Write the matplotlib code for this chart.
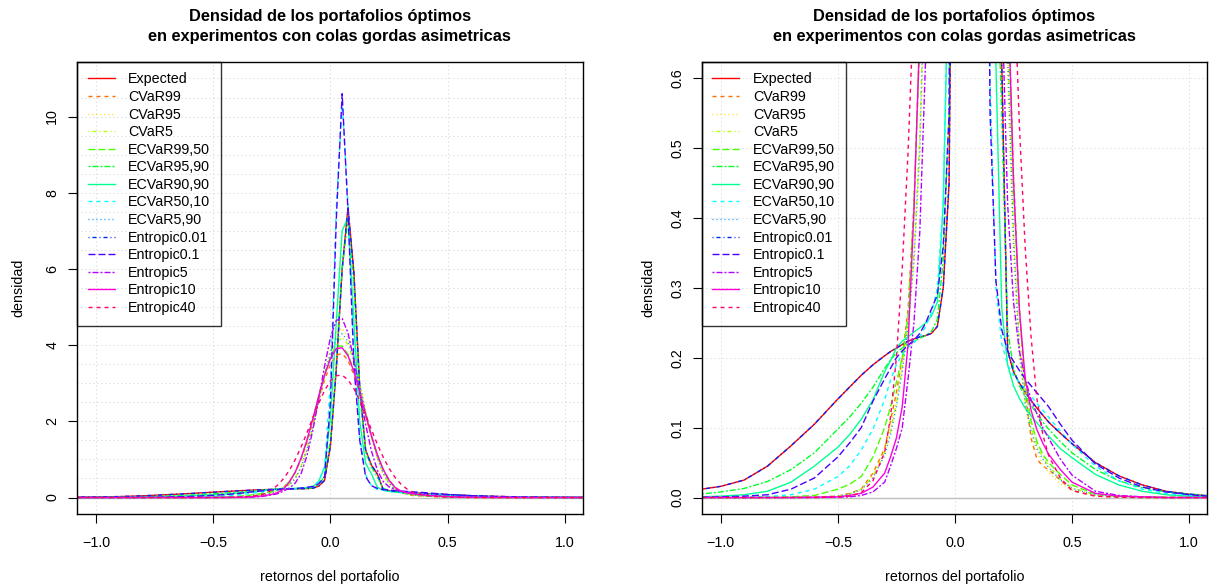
import matplotlib
matplotlib.use("Agg")
import matplotlib.pyplot as plt

plt.rcParams['font.family'] = ['Liberation Sans', 'DejaVu Sans']
plt.rcParams['lines.scale_dashes'] = False
plt.rcParams['axes.unicode_minus'] = True

# ---------------- data ----------------
X = [-1.08, -1.0, -0.9, -0.8, -0.7, -0.6, -0.5, -0.45, -0.4, -0.35, -0.3,
     -0.275, -0.25, -0.225, -0.2, -0.175, -0.15, -0.125, -0.1, -0.075, -0.05, -0.025,
     0.0, 0.025, 0.05, 0.075, 0.1, 0.125, 0.15, 0.175, 0.2, 0.225,
     0.25, 0.275, 0.3, 0.325, 0.35, 0.375, 0.4, 0.45, 0.5, 0.6, 0.7, 0.8, 0.9, 1.0, 1.08]

expected = [0.012, 0.016, 0.025, 0.045, 0.074, 0.105, 0.141, 0.158, 0.175, 0.190, 0.203,
            0.209, 0.214, 0.219, 0.224, 0.227, 0.230, 0.232, 0.235, 0.245, 0.300, 0.450,
            1.36, 3.38, 6.00, 7.62, 5.90, 2.90, 1.25, 0.85, 0.62, 0.21,
            0.180, 0.164, 0.151, 0.139, 0.128, 0.118, 0.108, 0.092, 0.077, 0.050, 0.031, 0.018, 0.009, 0.0048, 0.0024]
cvar99 = [0, 0, 0, 0, 0.0002, 0.0005, 0.002, 0.006, 0.012, 0.035, 0.070,
          0.110, 0.150, 0.200, 0.270, 0.420, 0.660, 1.00, 1.45, 1.98, 2.55, 3.08,
          3.50, 3.74, 3.78, 3.60, 3.22, 2.72, 2.15, 1.60, 1.12, 0.74,
          0.46, 0.27, 0.15, 0.085, 0.055, 0.045, 0.040, 0.025, 0.010, 0.002, 0.0005, 0, 0, 0, 0]
cvar95 = [0, 0, 0, 0, 0, 0.0002, 0.001, 0.004, 0.012, 0.032, 0.070,
          0.100, 0.140, 0.190, 0.250, 0.330, 0.480, 0.760, 1.22, 1.84, 2.55, 3.29,
          3.93, 4.34, 4.44, 4.21, 3.69, 3.00, 2.25, 1.57, 1.01, 0.60,
          0.34, 0.20, 0.13, 0.09, 0.065, 0.048, 0.036, 0.020, 0.011, 0.003, 0.001, 0, 0, 0, 0]
cvar5 = [0, 0, 0, 0, 0, 0.0005, 0.002, 0.005, 0.012, 0.030, 0.065,
         0.095, 0.135, 0.185, 0.250, 0.350, 0.520, 0.820, 1.28, 1.86, 2.50, 3.15,
         3.70, 4.08, 4.20, 4.02, 3.58, 2.95, 2.25, 1.60, 1.06, 0.65,
         0.38, 0.22, 0.14, 0.10, 0.075, 0.058, 0.045, 0.026, 0.014, 0.004, 0.001, 0, 0, 0, 0]
ecvar99_50 = [0, 0, 0, 0.0005, 0.001, 0.003, 0.012, 0.019, 0.030, 0.058, 0.100,
              0.130, 0.165, 0.200, 0.260, 0.420, 0.656, 1.02, 1.50, 2.06, 2.67, 3.24,
              3.69, 3.96, 3.98, 3.76, 3.34, 2.79, 2.18, 1.61, 1.11, 0.72,
              0.44, 0.27, 0.16, 0.11, 0.08, 0.062, 0.05, 0.033, 0.018, 0.005, 0.002, 0.001, 0.0005, 0.0002, 0.0001]
ecvar95_90 = [0.005, 0.008, 0.013, 0.023, 0.040, 0.064, 0.098, 0.115, 0.135, 0.158, 0.185,
              0.197, 0.207, 0.214, 0.220, 0.224, 0.228, 0.232, 0.238, 0.255, 0.34, 0.55,
              1.50, 3.50, 6.00, 7.30, 5.60, 2.80, 1.20, 0.80, 0.55, 0.24,
              0.185, 0.160, 0.145, 0.132, 0.120, 0.108, 0.098, 0.080, 0.064, 0.040, 0.024, 0.014, 0.008, 0.005, 0.003]
ecvar90_90 = [0.001, 0.002, 0.004, 0.009, 0.022, 0.045, 0.072, 0.090, 0.112, 0.140, 0.180,
              0.196, 0.214, 0.224, 0.230, 0.237, 0.243, 0.250, 0.260, 0.280, 0.42, 0.80,
              2.10, 4.60, 7.00, 7.35, 4.60, 2.00, 0.90, 0.62, 0.27, 0.19,
              0.160, 0.142, 0.128, 0.117, 0.107, 0.097, 0.088, 0.070, 0.057, 0.033, 0.018, 0.009, 0.004, 0.002, 0.001]
ecvar50_10 = [0.0, 0.0003, 0.0007, 0.0015, 0.004, 0.012, 0.030, 0.045, 0.068, 0.098, 0.140,
              0.168, 0.190, 0.205, 0.215, 0.222, 0.230, 0.245, 0.265, 0.300, 0.42, 0.80,
              3.00, 7.60, 10.40, 7.70, 3.90, 1.60, 0.60, 0.30, 0.22, 0.19,
              0.175, 0.165, 0.155, 0.145, 0.135, 0.125, 0.115, 0.095, 0.076, 0.045, 0.024, 0.012, 0.006, 0.003, 0.0015]
ecvar5_90 = [0, 0, 0, 0, 0, 0.0005, 0.002, 0.005, 0.011, 0.028, 0.060,
             0.090, 0.130, 0.180, 0.245, 0.340, 0.500, 0.800, 1.27, 1.87, 2.55, 3.22,
             3.80, 4.18, 4.30, 4.10, 3.63, 2.98, 2.26, 1.60, 1.05, 0.64,
             0.37, 0.21, 0.135, 0.095, 0.070, 0.055, 0.043, 0.025, 0.013, 0.004, 0.001, 0, 0, 0, 0]
entropic0_01 = [0.012, 0.016, 0.025, 0.045, 0.074, 0.105, 0.141, 0.158, 0.175, 0.190, 0.203,
                0.209, 0.214, 0.219, 0.224, 0.227, 0.230, 0.232, 0.235, 0.245, 0.300, 0.450,
                1.36, 3.38, 6.00, 7.60, 5.90, 2.90, 1.25, 0.85, 0.62, 0.21,
                0.180, 0.164, 0.151, 0.139, 0.128, 0.118, 0.108, 0.092, 0.077, 0.050, 0.031, 0.018, 0.009, 0.0048, 0.0024]
entropic0_1 = [0.0005, 0.001, 0.002, 0.004, 0.012, 0.028, 0.058, 0.078, 0.100, 0.138, 0.170,
               0.185, 0.200, 0.210, 0.218, 0.225, 0.235, 0.250, 0.270, 0.290, 0.36, 0.55,
               2.50, 7.30, 10.60, 7.50, 3.50, 1.50, 0.55, 0.31, 0.24, 0.21,
               0.195, 0.182, 0.170, 0.160, 0.150, 0.140, 0.130, 0.105, 0.082, 0.048, 0.028, 0.015, 0.008, 0.004, 0.002]
entropic5 = [0, 0, 0, 0, 0, 0, 0.0005, 0.001, 0.003, 0.008, 0.022,
             0.045, 0.070, 0.100, 0.170, 0.250, 0.380, 0.630, 1.10, 1.77, 2.59, 3.45,
             4.20, 4.65, 4.70, 4.32, 3.62, 2.76, 1.92, 1.22, 0.72, 0.42,
             0.28, 0.21, 0.17, 0.14, 0.12, 0.10, 0.085, 0.055, 0.032, 0.009, 0.003, 0.001, 0, 0, 0]
entropic10 = [0, 0, 0, 0, 0, 0.0005, 0.001, 0.003, 0.006, 0.015, 0.035,
              0.058, 0.085, 0.130, 0.220, 0.410, 0.670, 1.04, 1.51, 2.07, 2.66, 3.21,
              3.65, 3.91, 3.93, 3.72, 3.31, 2.77, 2.18, 1.62, 1.13, 0.74,
              0.455, 0.27, 0.17, 0.125, 0.097, 0.078, 0.062, 0.040, 0.022, 0.006, 0.002, 0.001, 0, 0, 0]
entropic40 = [0, 0, 0, 0, 0, 0, 0.001, 0.002, 0.007, 0.024, 0.065,
              0.115, 0.200, 0.328, 0.495, 0.716, 0.996, 1.33, 1.70, 2.10, 2.47, 2.81,
              3.06, 3.20, 3.21, 3.09, 2.86, 2.55, 2.17, 1.78, 1.40, 1.06,
              0.768, 0.534, 0.357, 0.23, 0.141, 0.09, 0.06, 0.028, 0.010, 0.002, 0.0005, 0, 0, 0, 0]

labels = ["Expected", "CVaR99", "CVaR95", "CVaR5", "ECVaR99,50", "ECVaR95,90",
          "ECVaR90,90", "ECVaR50,10", "ECVaR5,90", "Entropic0.01", "Entropic0.1",
          "Entropic5", "Entropic10", "Entropic40"]
series = [expected, cvar99, cvar95, cvar5, ecvar99_50, ecvar95_90, ecvar90_90,
          ecvar50_10, ecvar5_90, entropic0_01, entropic0_1, entropic5, entropic10, entropic40]

x_ticks = [-1.0, -0.5, 0.0, 0.5, 1.0]
x_ticklabels = ["\u22121.0", "\u22120.5", "0.0", "0.5", "1.0"]
left_yticks = [0, 2, 4, 6, 8, 10]
left_yticklabels = ["0", "2", "4", "6", "8", "10"]
right_yticks = [0.0, 0.1, 0.2, 0.3, 0.4, 0.5, 0.6]
right_yticklabels = ["0.0", "0.1", "0.2", "0.3", "0.4", "0.5", "0.6"]
left_hgrid = [i * 0.5 for i in range(0, 23)]
right_hgrid = right_yticks

title1 = "Densidad de los portafolios óptimos"
title2 = "en experimentos con colas gordas asimetricas"
xlabel = "retornos del portafolio"
ylabel = "densidad"

# ---------------- styles ----------------
colors = ["#FF0000", "#FF6D00", "#FFDB00", "#B6FF00", "#49FF00", "#00FF24", "#00FF92",
          "#00FFFF", "#0092FF", "#0024FF", "#4900FF", "#B600FF", "#FF00DB", "#FF006D"]
px = 0.72
lty = {
    1: '-',
    2: (0, (4 * px, 4 * px)),
    3: (0, (1 * px, 3 * px)),
    4: (0, (1 * px, 3 * px, 4 * px, 3 * px)),
    5: (0, (7 * px, 3 * px)),
    6: (0, (2 * px, 2 * px, 6 * px, 2 * px)),
}
styles = [lty[(i % 6) + 1] for i in range(14)]

W, H = 1209, 586
fig = plt.figure(figsize=(W / 100, H / 100), dpi=100)


def add_axes(l, r, t, b):
    return fig.add_axes([l / W, 1 - b / H, (r - l) / W, (b - t) / H])


ax1 = add_axes(77, 582.7, 61.7, 514.3)
ax2 = add_axes(701.7, 1207, 61.7, 514.3)

FS = 10.3
panels = [
    (ax1, (-0.44, 11.44), left_yticks, left_yticklabels, left_hgrid),
    (ax2, (-0.024, 0.624), right_yticks, right_yticklabels, right_hgrid),
]
grid_style = dict(color="#D3D3D3", lw=0.75, linestyle=(0, (1 * px, 3 * px)), zorder=1)

for ax, ylim, yt, ytl, hg in panels:
    ax.set_xlim(-1.081, 1.076)
    ax.set_ylim(*ylim)
    for g in x_ticks:
        ax.axvline(g, **grid_style)
    for g in hg:
        ax.axhline(g, **grid_style)
    ax.axhline(0, color="#BEBEBE", lw=1.0, zorder=1.5)
    handles = []
    for ys, c, st, lab in zip(series, colors, styles, labels):
        ln, = ax.plot(X, ys, color=c, lw=1.0, linestyle=st, label=lab, zorder=2,
                      dash_capstyle='butt')
        handles.append(ln)
    leg = ax.legend(handles=handles, loc="upper left", bbox_to_anchor=(0, 1),
                    borderaxespad=0, fontsize=FS, frameon=True, fancybox=False,
                    handlelength=1.88, handletextpad=0.94, labelspacing=0.25,
                    borderpad=0.75)
    fr = leg.get_frame()
    fr.set_edgecolor("black")
    fr.set_facecolor("none")
    fr.set_linewidth(1.0)

    ax.set_xticks(x_ticks)
    ax.set_xticklabels(x_ticklabels)
    ax.set_yticks(yt)
    ax.set_yticklabels(ytl, rotation=90, va="center")
    ax.tick_params(axis="x", direction="out", length=6.5, width=0.8, labelsize=FS, pad=9)
    ax.tick_params(axis="y", direction="out", length=6.5, width=0.8, labelsize=FS, pad=6.2)
    for sp in ax.spines.values():
        sp.set_linewidth(1.0)
        sp.set_color("black")

    ax.set_xlabel(xlabel, fontsize=FS, va="center")
    ax.set_ylabel(ylabel, fontsize=FS, va="center")
    ax.xaxis.set_label_coords(0.5, (514.3 - 577) / 452.6)
    ax.text(0.5, 1 + (61.7 - 17) / 452.6, title1, transform=ax.transAxes,
            ha="center", va="center", fontsize=11.8, fontweight="bold")
    ax.text(0.5, 1 + (61.7 - 37) / 452.6, title2, transform=ax.transAxes,
            ha="center", va="center", fontsize=11.8, fontweight="bold")

ax1.yaxis.set_label_coords((18 - 77) / 505.7, 0.5)
ax2.yaxis.set_label_coords((648 - 701.7) / 505.3, 0.5)

fig.savefig("out.png", dpi=100)
